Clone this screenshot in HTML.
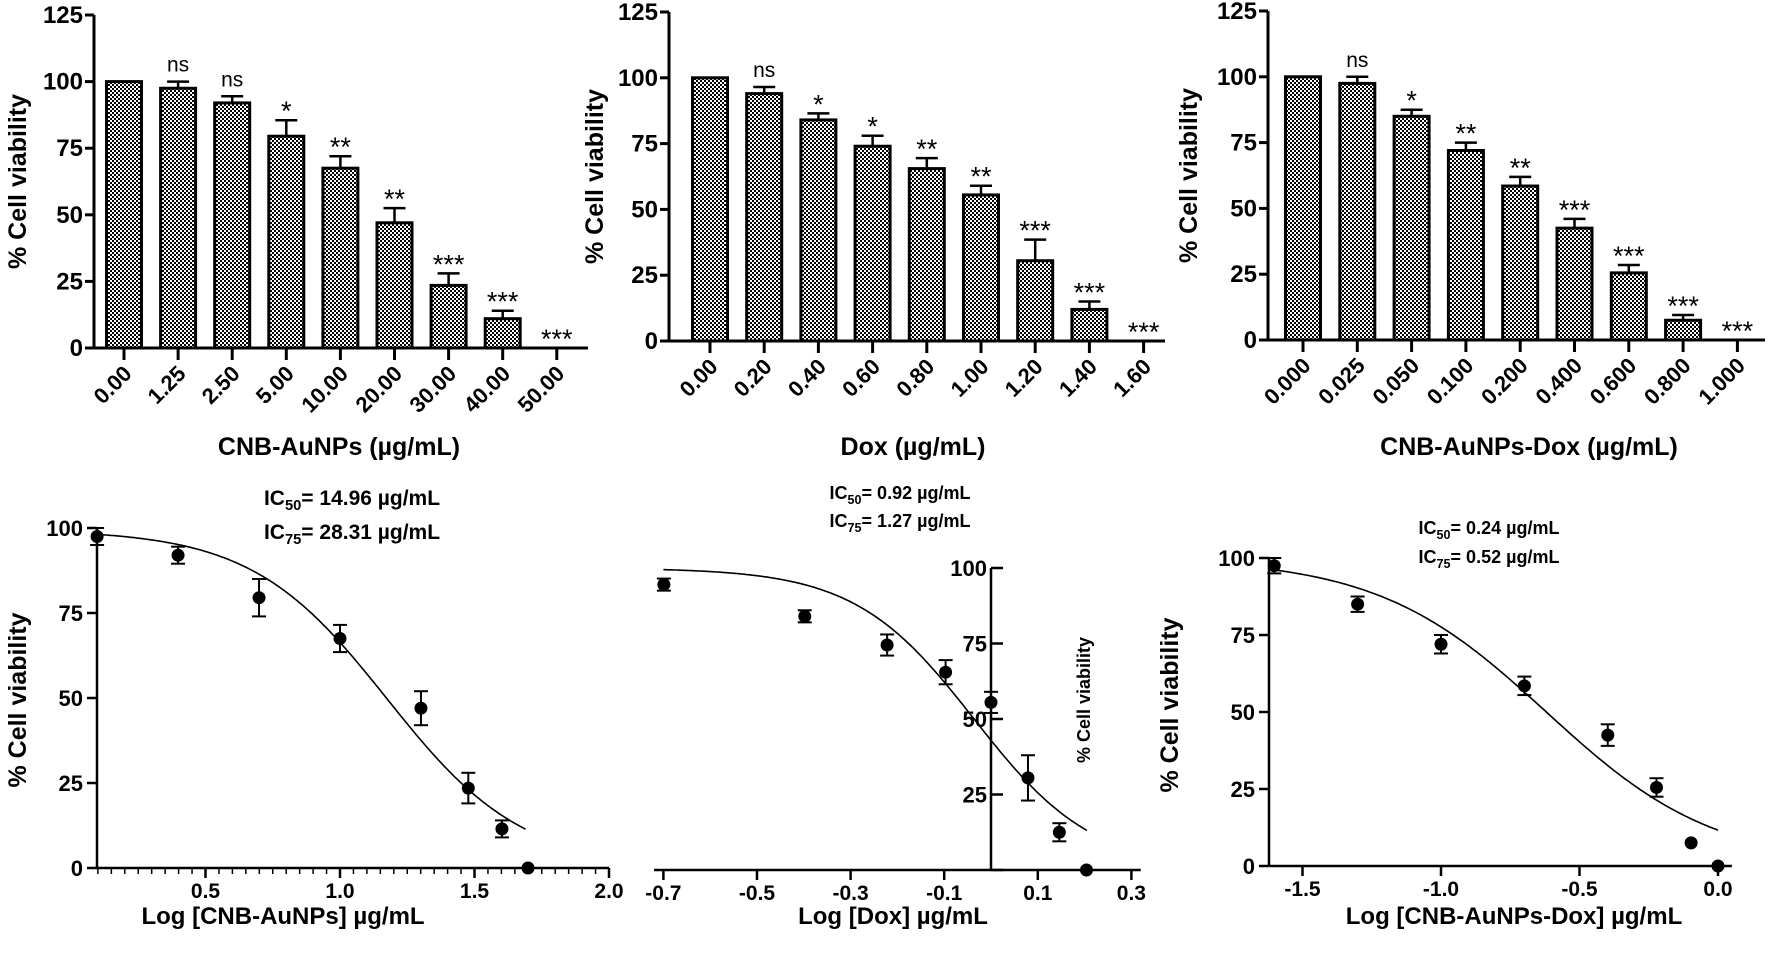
<!DOCTYPE html>
<html><head><meta charset="utf-8">
<style>
html,body{margin:0;padding:0;background:#fff;}
svg{display:block;font-family:"Liberation Sans",Arial,sans-serif;}
</style></head>
<body>
<svg id="fig" width="1772" height="963" viewBox="0 0 1772 963" xmlns="http://www.w3.org/2000/svg">
<defs>
<pattern id="chk" width="4" height="4" patternUnits="userSpaceOnUse">
<rect width="4" height="4" fill="#fff"/><rect width="2" height="2" fill="#000"/><rect x="2" y="2" width="2" height="2" fill="#000"/>
</pattern>
</defs>
</svg>
<script>
// ---- Bar chart data ----
const catsA = ["0.00","1.25","2.50","5.00","10.00","20.00","30.00","40.00","50.00"];
const valsA = [100,97.5,92,79.5,67.5,47,23.5,11,0];
const errA = [0,2.5,2.5,6,4.5,5.5,4.5,3,0];
const sigA = ["","ns","ns","*","**","**","***","***","***"];
const catsB = ["0.00","0.20","0.40","0.60","0.80","1.00","1.20","1.40","1.60"];
const valsB = [100,94,84,74,65.5,55.5,30.5,12,0];
const errB = [0,2.5,2.5,4,4,3.5,8,3,0];
const sigB = ["","ns","*","*","**","**","***","***","***"];
const catsC = ["0.000","0.025","0.050","0.100","0.200","0.400","0.600","0.800","1.000"];
const valsC = [100,97.5,85,72,58.5,42.5,25.5,7.5,0];
const errC = [0,2.5,2.5,3,3.5,3.5,3,2,0];
const sigC = ["","ns","*","**","**","***","***","***","***"];
const barTicks = [0,25,50,75,100,125];
// ---- Dose-response data ----
const logA = [0.097,0.398,0.699,1.0,1.301,1.477,1.602,1.699];
const ptsA = [97.5,92,79.5,67.5,47,23.5,11.5,0];
const pErrA = [2.5,2.5,5.5,4,5,4.5,2.5,0];
const logB = [-0.699,-0.398,-0.222,-0.097,0,0.079,0.146,0.204];
const ptsB = [94.5,84,74.5,65.5,55.5,30.5,12.5,0];
const pErrB = [2,2,3.5,4,3.5,7.5,3,0];
const logC = [-1.602,-1.301,-1.0,-0.699,-0.398,-0.222,-0.097,0];
const ptsC = [97.5,85,72,58.5,42.5,25.5,7.5,0];
const pErrC = [2.5,2.5,3,3,3.5,3,0,0];
const fitA = [14.96,28.31];
const fitB = [0.92,1.27];
const fitC = [0.24,0.52];
const lineTicks = [0,25,50,75,100];
const xTicksA = [0.5,1.0,1.5,2.0];
const xTicksB = [-0.7,-0.5,-0.3,-0.1,0.1,0.3];
const xTicksC = [-1.5,-1.0,-0.5,0.0];

const svg = document.getElementById('fig');
const NS = 'http://www.w3.org/2000/svg';
function mk(tag, attrs, parent, text){
  const e = document.createElementNS(NS, tag);
  for (const k in attrs) e.setAttribute(k, attrs[k]);
  if (text !== undefined) e.textContent = text;
  (parent||svg).appendChild(e);
  return e;
}

function barChart(o){
  const g = mk('g',{});
  
  
  const y = v => o.y0 - v*(o.y0-o.y125)/125;
  const x = i => o.b0 + i*o.step;
  const ya = mk('line',{x1:o.ax,y1:o.y125,x2:o.ax,y2:o.y0,stroke:'#000','stroke-width':3},g);
  
  
  barTicks.forEach(t=>{
    mk('line',{x1:o.ax-9,y1:y(t),x2:o.ax,y2:y(t),stroke:'#000','stroke-width':3},g);
    const tl = mk('text',{x:o.ax-11,y:y(t)+8,'text-anchor':'end','font-size':24,'font-weight':'bold'},g,String(t));
    
    
  });
  const xa = mk('line',{x1:o.ax,y1:o.y0,x2:o.xend,y2:o.y0,stroke:'#000','stroke-width':3},g);
  
  
  o.cats.forEach((c,i)=>{
    const cx = x(i), v = o.vals[i];
    if (v>0){
      const b = mk('rect',{x:cx-o.bw/2,y:y(v),width:o.bw,height:o.y0-y(v),fill:'url(#chk)',stroke:'#000','stroke-width':3},g);
      
      
    }
    const top = y(v+o.err[i]);
    if (o.err[i]>0){
      mk('line',{x1:cx,y1:y(v),x2:cx,y2:top,stroke:'#000','stroke-width':2.5},g);
      mk('line',{x1:cx-11,y1:top,x2:cx+11,y2:top,stroke:'#000','stroke-width':2.5},g);
    }
    if (o.sig[i]){
      const isStar = o.sig[i][0]==='*';
      const s = mk('text',{x:cx,y:top-(isStar?0:10),'text-anchor':'middle','font-size':isStar?27:21},g,o.sig[i]);
      
      
    }
    mk('line',{x1:cx,y1:o.y0,x2:cx,y2:o.y0+12,stroke:'#000','stroke-width':3},g);
    const tl = mk('text',{x:cx+9,y:o.y0+27,'text-anchor':'end','font-size':22,'font-weight':'bold',transform:`rotate(-45 ${cx+9} ${o.y0+27})`},g,c);
    
    
  });
  const yt = mk('text',{x:o.ytx,y:(o.y0+o.y125)/2,'text-anchor':'middle','font-size':25,'font-weight':'bold',transform:`rotate(-90 ${o.ytx} ${(o.y0+o.y125)/2})`},g,'% Cell viability');
  
  
  const xt = mk('text',{x:o.xtx,y:455,'text-anchor':'middle','font-size':25,'font-weight':'bold'},g,o.xtitle);
  
  
}

barChart({name:'bar-chart-cnb-aunps',cats:catsA,vals:valsA,err:errA,sig:sigA,ax:94,y0:348,y125:15,b0:124,step:54.1,bw:35,xend:588,ytx:26,xtx:339,xtitle:'CNB-AuNPs (\u00b5g/mL)'});
barChart({name:'bar-chart-dox',cats:catsB,vals:valsB,err:errB,sig:sigB,ax:669,y0:341,y125:12,b0:710,step:54.2,bw:35,xend:1165,ytx:603,xtx:913,xtitle:'Dox (\u00b5g/mL)'});
barChart({name:'bar-chart-cnb-aunps-dox',cats:catsC,vals:valsC,err:errC,sig:sigC,ax:1268,y0:340,y125:11,b0:1303,step:54.3,bw:35,xend:1765,ytx:1197,xtx:1529,xtitle:'CNB-AuNPs-Dox (\u00b5g/mL)'});

function doseChart(o){
  const g = mk('g',{});
  
  
  const X = v => o.xz + v*o.unit;
  const Y = v => o.y0 - v*(o.y0-o.y100)/100;
  const xa = mk('line',{x1:X(o.xmin),y1:o.y0,x2:X(o.xmax),y2:o.y0,stroke:'#000','stroke-width':2.5},g);
  
  
  const ya = mk('line',{x1:o.yax,y1:o.y100,x2:o.yax,y2:o.y0,stroke:'#000','stroke-width':2.5},g);
  
  
  lineTicks.forEach(t=>{
    if (o.rightTicks){
      mk('line',{x1:o.yax,y1:Y(t),x2:o.yax+12,y2:Y(t),stroke:'#000','stroke-width':2.5},g);
    } else {
      mk('line',{x1:o.yax-10,y1:Y(t),x2:o.yax,y2:Y(t),stroke:'#000','stroke-width':2.5},g);
    }
    if (t===0 && o.rightTicks) return;
    const tl = mk('text',{x:o.yax-(o.rightTicks?4:14),y:Y(t)+8,'text-anchor':'end','font-size':22,'font-weight':'bold'},g,String(t));
    
    
  });
  if (o.minor){
    for (let v=Math.ceil(o.xmin/o.minor)*o.minor; v<=o.xmax+1e-9; v+=o.minor){
      mk('line',{x1:X(v),y1:o.y0,x2:X(v),y2:o.y0+6,stroke:'#000','stroke-width':1.5},g);
    }
  }
  o.xticks.forEach(t=>{
    mk('line',{x1:X(t),y1:o.y0,x2:X(t),y2:o.y0+10,stroke:'#000','stroke-width':2.5},g);
    const tl = mk('text',{x:X(t),y:o.y0+30,'text-anchor':'middle','font-size':21,'font-weight':'bold'},g,o.fmt(t));
    
    
  });
  const ic50 = Math.log10(o.fit[0]), ic75 = Math.log10(o.fit[1]);
  const hill = Math.log10(3)/(ic75-ic50);
  let d='';
  for (let i=0;i<=200;i++){
    const v = o.cx0 + (o.cx1-o.cx0)*i/200;
    const yv = o.top/(1+Math.pow(10,hill*(v-ic50)));
    d += (i?'L':'M')+X(v).toFixed(1)+','+Y(yv).toFixed(1);
  }
  const c = mk('path',{d:d,fill:'none',stroke:'#000','stroke-width':1.6},g);
  
  
  o.xs.forEach((v,i)=>{
    const px = X(v), py = Y(o.ys[i]), e = o.err[i];
    if (e>0){
      mk('line',{x1:px,y1:Y(o.ys[i]+e),x2:px,y2:Y(o.ys[i]-e),stroke:'#000','stroke-width':2},g);
      mk('line',{x1:px-7,y1:Y(o.ys[i]+e),x2:px+7,y2:Y(o.ys[i]+e),stroke:'#000','stroke-width':2},g);
      mk('line',{x1:px-7,y1:Y(o.ys[i]-e),x2:px+7,y2:Y(o.ys[i]-e),stroke:'#000','stroke-width':2},g);
    }
    const p = mk('circle',{cx:px,cy:py,r:6.5,fill:'#000'},g);
    
    
  });
  const yt = mk('text',{x:o.ytx,y:o.yty,'text-anchor':'middle','font-size':o.ytsize,'font-weight':'bold',transform:`rotate(-90 ${o.ytx} ${o.yty})`},g,'% Cell viability');
  
  
  const xt = mk('text',{x:o.xtx,y:924,'text-anchor':'middle','font-size':24,'font-weight':'bold'},g,o.xtitle);
  
  
  [['50',o.fit[0]],['75',o.fit[1]]].forEach((r,k)=>{
    const t = mk('text',{x:o.icx,y:o.icy+k*o.icgap,'text-anchor':'middle','font-size':o.icsize,'font-weight':'bold'},g);
    
    
    t.appendChild(document.createTextNode('IC'));
    mk('tspan',{'font-size':o.icsize*0.7,dy:5},t,r[0]);
    mk('tspan',{dy:-5},t,'= '+r[1].toFixed(2)+' \u00b5g/mL');
  });
}
const f1 = t=>t.toFixed(1);
doseChart({name:'dose-response-cnb-aunps',xs:logA,ys:ptsA,err:pErrA,fit:fitA,xz:71,unit:269,xmin:0.09,xmax:2.0,yax:97,rightTicks:false,y0:868,y100:528,xticks:xTicksA,minor:0.05,fmt:f1,cx0:0.1,cx1:1.69,top:99.5,ytx:26,yty:700,ytsize:25,xtx:283,xtitle:'Log [CNB-AuNPs] \u00b5g/mL',icx:352,icy:505,icgap:34,icsize:21});
doseChart({name:'dose-response-dox',xs:logB,ys:ptsB,err:pErrB,fit:fitB,xz:991,unit:468,xmin:-0.72,xmax:0.32,yax:991,rightTicks:true,y0:870,y100:568,xticks:xTicksB,minor:0,fmt:f1,cx0:-0.7,cx1:0.205,top:100,ytx:1090,yty:700,ytsize:18,xtx:893,xtitle:'Log [Dox] \u00b5g/mL',icx:900,icy:499,icgap:28,icsize:18});
doseChart({name:'dose-response-cnb-aunps-dox',xs:logC,ys:ptsC,err:pErrC,fit:fitC,xz:1718,unit:277,xmin:-1.62,xmax:0.05,yax:1269,rightTicks:false,y0:866,y100:558,xticks:xTicksC,minor:0,fmt:f1,cx0:-1.6,cx1:0,top:100,ytx:1178,yty:705,ytsize:25,xtx:1514,xtitle:'Log [CNB-AuNPs-Dox] \u00b5g/mL',icx:1489,icy:534,icgap:29,icsize:18});
</script>
</body></html>
